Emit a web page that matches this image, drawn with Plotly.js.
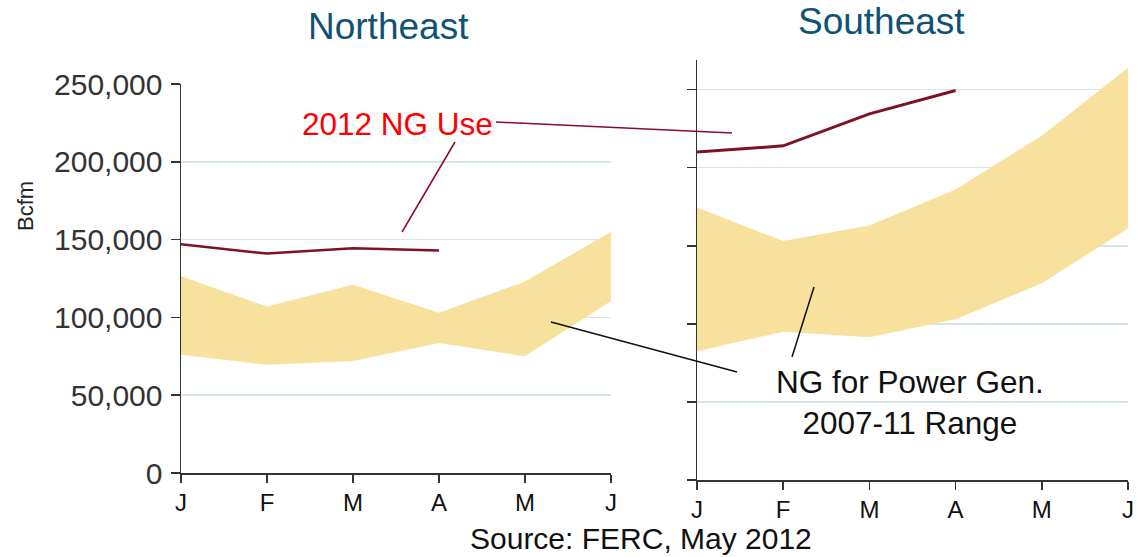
<!DOCTYPE html>
<html>
<head>
<meta charset="utf-8">
<script src="https://cdn.plot.ly/plotly-3.0.1.min.js"></script>
<style>html,body{margin:0;padding:0;background:#fff;}#chart{width:1138px;height:557px;}</style>
</head>
<body>
<div id="chart"></div>
<script>
// Month positions and labels
const monthIdx = [0, 1, 2, 3, 4, 5];
const monthLabels = ['J', 'F', 'M', 'A', 'M', 'J'];
const useIdx = [0, 1, 2, 3];

// Northeast (Bcfm)
const neUse2012 = [147000, 141000, 144500, 143000];
const neRangeLow = [76000, 69500, 72000, 83500, 75000, 110500];
const neRangeHigh = [126500, 107000, 121000, 103000, 123000, 155000];

// Southeast (Bcfm)
const seUse2012 = [210000, 214000, 234500, 249500];
const seRangeLow = [82500, 95000, 91500, 103000, 126000, 161000];
const seRangeHigh = [174500, 153000, 163000, 186000, 220500, 264000];

const W = 1138, H = 557;
const px = x => x / W;
const py = y => 1 - y / H;

const bandColor = '#F8E09D';
const useColor = '#7E1124';
const font = 'Liberation Sans, Arial, sans-serif';

const traces = [
  {x: monthIdx, y: neRangeLow, xaxis: 'x', yaxis: 'y', mode: 'lines', line: {width: 0, color: bandColor}, hoverinfo: 'skip'},
  {x: monthIdx, y: neRangeHigh, xaxis: 'x', yaxis: 'y', mode: 'lines', line: {width: 0, color: bandColor}, fill: 'tonexty', fillcolor: bandColor, hoverinfo: 'skip'},
  {x: useIdx, y: neUse2012, xaxis: 'x', yaxis: 'y', mode: 'lines', line: {width: 2.5, color: useColor}},
  {x: monthIdx, y: seRangeLow, xaxis: 'x2', yaxis: 'y2', mode: 'lines', line: {width: 0, color: bandColor}, hoverinfo: 'skip'},
  {x: monthIdx, y: seRangeHigh, xaxis: 'x2', yaxis: 'y2', mode: 'lines', line: {width: 0, color: bandColor}, fill: 'tonexty', fillcolor: bandColor, hoverinfo: 'skip'},
  {x: useIdx, y: seUse2012, xaxis: 'x2', yaxis: 'y2', mode: 'lines', line: {width: 3, color: useColor}}
];

const xCommon = {
  range: [0, 5], tickvals: monthIdx, ticktext: monthLabels,
  showline: true, linecolor: '#333', linewidth: 1.5,
  ticks: 'outside', ticklen: 8, tickcolor: '#333', tickwidth: 1.5,
  ticklabelstandoff: 0,
  showgrid: false, zeroline: false,
  tickfont: {family: font, size: 24, color: '#111'}
};
const yCommon = {
  dtick: 50000, tick0: 0,
  showline: true, linecolor: '#333', linewidth: 1.5,
  ticks: 'outside', ticklen: 9, tickcolor: '#333', tickwidth: 1.5,
  ticklabelstandoff: 2,
  showgrid: true, gridcolor: '#D5E5E8', gridwidth: 1.5, zeroline: false,
  tickformat: ',d', tickfont: {family: font, size: 30, color: '#333'}
};

const layout = {
  width: W, height: H,
  margin: {l: 0, r: 0, t: 0, b: 0},
  paper_bgcolor: '#fff', plot_bgcolor: 'rgba(0,0,0,0)',
  showlegend: false, hovermode: false,
  xaxis: Object.assign({}, xCommon, {domain: [px(181), px(611)], anchor: 'y'}),
  yaxis: Object.assign({}, yCommon, {domain: [py(473), py(84)], range: [0, 250000], anchor: 'x'}),
  xaxis2: Object.assign({}, xCommon, {domain: [px(697), px(1128)], anchor: 'y2'}),
  yaxis2: Object.assign({}, yCommon, {domain: [py(480), py(60)], range: [0, 269000], anchor: 'x2', showticklabels: false}),
  annotations: [
    {text: 'Northeast', xref: 'paper', yref: 'paper', x: px(388), y: py(26), xanchor: 'center', yanchor: 'middle', showarrow: false, font: {family: font, size: 37, color: '#0E5275'}},
    {text: 'Southeast', xref: 'paper', yref: 'paper', x: px(881), y: py(21), xanchor: 'center', yanchor: 'middle', showarrow: false, font: {family: font, size: 37, color: '#0E5275'}},
    {text: 'Bcfm', xref: 'paper', yref: 'paper', x: px(25), y: py(206), xanchor: 'center', yanchor: 'middle', textangle: -90, showarrow: false, font: {family: font, size: 22, color: '#222'}},
    {text: '2012 NG Use', xref: 'paper', yref: 'paper', x: px(397), y: py(124), xanchor: 'center', yanchor: 'middle', showarrow: false, font: {family: font, size: 31.5, color: '#FF0000'}},
    {text: 'NG for Power Gen.<br>2007-11 Range', xref: 'paper', yref: 'paper', x: px(910), y: py(402), xanchor: 'center', yanchor: 'middle', showarrow: false, font: {family: font, size: 31.5, color: '#111'}},
    {text: 'Source: FERC, May 2012', xref: 'paper', yref: 'paper', x: px(641), y: py(538), xanchor: 'center', yanchor: 'middle', showarrow: false, font: {family: font, size: 30, color: '#111'}}
  ],
  shapes: [
    {type: 'line', xref: 'paper', yref: 'paper', x0: px(455), y0: py(142), x1: px(402), y1: py(232), line: {color: '#8B0A2A', width: 1.5}},
    {type: 'line', xref: 'paper', yref: 'paper', x0: px(496), y0: py(122), x1: px(732), y1: py(133), line: {color: '#8B0A2A', width: 1.5}},
    {type: 'line', xref: 'paper', yref: 'paper', x0: px(551), y0: py(322), x1: px(737), y1: py(372), line: {color: '#111', width: 1.5}},
    {type: 'line', xref: 'paper', yref: 'paper', x0: px(814), y0: py(287), x1: px(792), y1: py(357), line: {color: '#111', width: 1.5}}
  ]
};

Plotly.newPlot('chart', traces, layout, {staticPlot: true, displayModeBar: false});
</script>
</body>
</html>
